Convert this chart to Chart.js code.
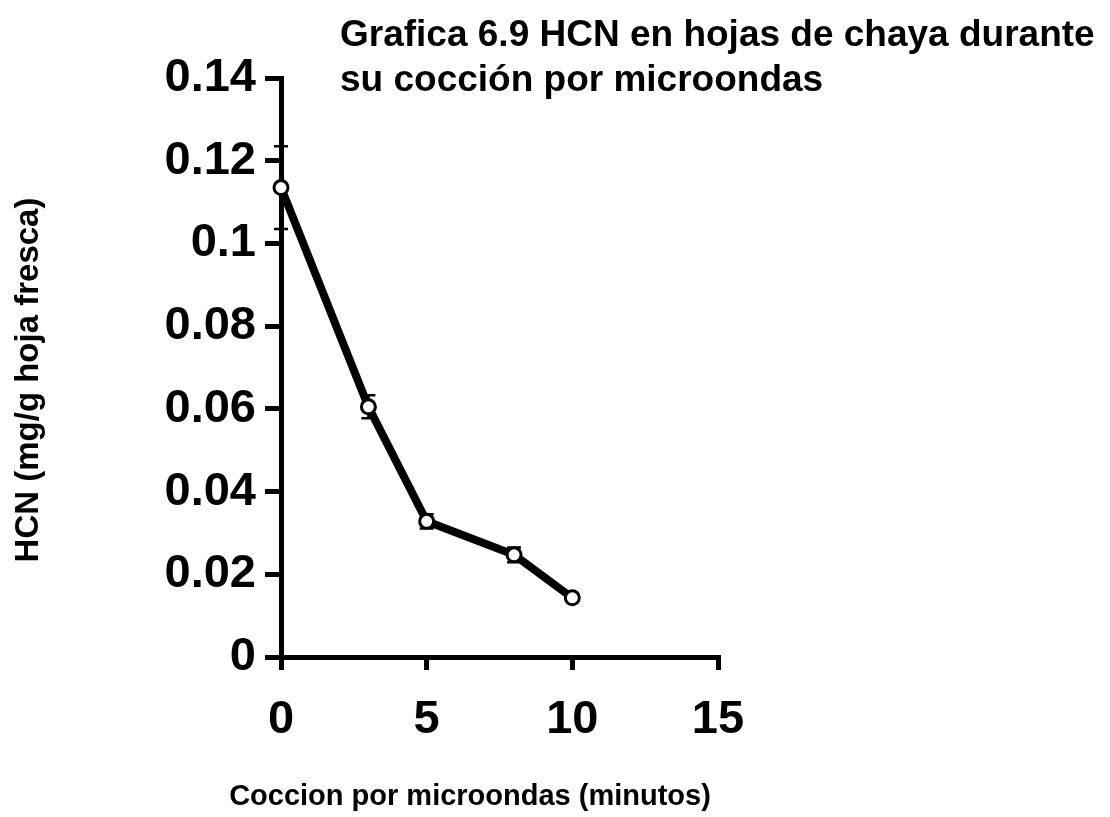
<!DOCTYPE html>
<html>
<head>
<meta charset="utf-8">
<title>HCN en hojas de chaya</title>
<script src="https://cdn.jsdelivr.net/npm/chart.js"></script>
<style>
  html, body { margin: 0; padding: 0; background: #fff; }
  #chart { display: block; }
</style>
</head>
<body>
<canvas id="chart" width="1110" height="817"></canvas>
<script>
// tiempo de coccion (minutos) y HCN medido
const minutes = [0, 3, 5, 8, 10];
const hcn = [0.1135, 0.0605, 0.0328, 0.0247, 0.0143];
const hcnError = [0.0100, 0.0028, 0.0017, 0.0018, 0.0005];

const yTicks = [0, 0.02, 0.04, 0.06, 0.08, 0.1, 0.12, 0.14];
const xTicks = [0, 5, 10, 15];

const titleLines = [
  "Grafica 6.9 HCN en hojas de chaya durante",
  "su cocción por microondas",
];
const xTitle = "Coccion por microondas (minutos)";
const yTitle = "HCN (mg/g hoja fresca)";

const fontFamily = "'Liberation Sans', Arial, sans-serif";

// barras de error detras de la linea, con tapas cortas
const errorBars = {
  id: "errorBars",
  beforeDatasetsDraw(chart) {
    const { ctx, scales: { x, y } } = chart;
    ctx.save();
    ctx.strokeStyle = "#000";
    ctx.lineWidth = 2.5;
    minutes.forEach((m, i) => {
      const px = x.getPixelForValue(m);
      const top = y.getPixelForValue(hcn[i] + hcnError[i]);
      const bottom = y.getPixelForValue(hcn[i] - hcnError[i]);
      ctx.beginPath();
      ctx.moveTo(px, top);
      ctx.lineTo(px, bottom);
      ctx.moveTo(px - 7, top);
      ctx.lineTo(px + 7, top);
      ctx.moveTo(px - 7, bottom);
      ctx.lineTo(px + 7, bottom);
      ctx.stroke();
    });
    ctx.restore();
  },
};

// titulo y nombres de ejes colocados como en el original
const labels = {
  id: "labels",
  afterDraw(chart) {
    const { ctx } = chart;
    ctx.save();
    ctx.fillStyle = "#000";
    ctx.textBaseline = "middle";
    ctx.textAlign = "left";
    ctx.font = "bold 37px " + fontFamily;
    ctx.fillText(titleLines[0], 340, 36);
    ctx.fillText(titleLines[1], 340, 81);

    ctx.textAlign = "center";
    ctx.font = "bold 29px " + fontFamily;
    ctx.fillText(xTitle, 470, 797);

    ctx.font = "bold 33px " + fontFamily;
    ctx.translate(29, 380);
    ctx.rotate(-Math.PI / 2);
    ctx.fillText(yTitle, 0, 0);
    ctx.restore();
  },
};

new Chart(document.getElementById("chart"), {
  type: "line",
  data: {
    datasets: [{
      data: minutes.map((m, i) => ({ x: m, y: hcn[i] })),
      borderColor: "#000",
      borderWidth: 8,
      tension: 0,
      clip: false,
      pointStyle: "circle",
      pointRadius: 7,
      pointBorderWidth: 3,
      pointBackgroundColor: "#fff",
      pointBorderColor: "#000",
    }],
  },
  options: {
    responsive: false,
    animation: false,
    layout: { padding: { top: 78, right: 392, bottom: 0, left: 0 } },
    plugins: {
      legend: { display: false },
      tooltip: { enabled: false },
    },
    scales: {
      x: {
        type: "linear",
        min: 0,
        max: 15,
        afterFit(scale) { scale.height = 160; },
        afterBuildTicks(scale) { scale.ticks = xTicks.map((v) => ({ value: v })); },
        border: { color: "#000", width: 5 },
        grid: { drawOnChartArea: false, color: "#000", lineWidth: 5, tickLength: 13 },
        ticks: {
          color: "#000",
          padding: 22,
          font: { family: fontFamily, size: 47, weight: "bold" },
        },
      },
      y: {
        min: 0,
        max: 0.14,
        afterFit(scale) { scale.width = 281; },
        afterBuildTicks(scale) { scale.ticks = yTicks.map((v) => ({ value: v })); },
        border: { color: "#000", width: 5 },
        grid: { drawOnChartArea: false, color: "#000", lineWidth: 5, tickLength: 16 },
        ticks: {
          color: "#000",
          padding: 9,
          font: { family: fontFamily, size: 47, weight: "bold" },
          callback: (v) => String(+v.toFixed(2)),
        },
      },
    },
  },
  plugins: [errorBars, labels],
});
</script>
</body>
</html>
